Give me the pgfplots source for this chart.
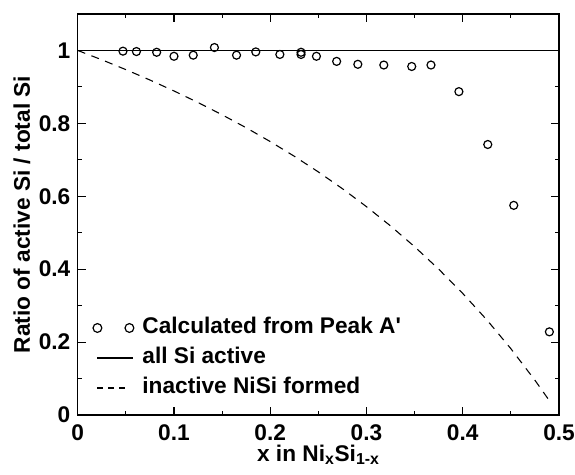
\documentclass[border=0pt]{standalone}
\usepackage{pgfplots}
\pgfplotsset{compat=1.18}
\usepackage{fontspec}
\setmainfont{Liberation Sans}

\begin{document}
\begin{tikzpicture}
\useasboundingbox (-58.3pt,-45pt) rectangle (373pt,311.25pt);
\begin{axis}[
    scale only axis,
    width=361pt,
    height=300.75pt,
    xmin=0, xmax=0.5,
    ymin=0, ymax=1.1,
    xtick={0,0.1,...,0.5},
    ytick={0,0.2,...,1},
    minor xtick={0.05,0.15,...,0.45},
    minor ytick={0.1,0.3,...,0.9,1.1},
    tick align=inside,
    major tick length=6pt,
    minor tick length=3pt,
    axis line style={line width=1pt},
    every tick/.style={black, line width=0.8pt},
    /pgf/number format/assume math mode=true,
    tick label style={font=\fontsize{17}{20}\selectfont\bfseries},
    xticklabel style={yshift=-4pt},
    yticklabel style={xshift=-2pt},
    xlabel={x in Ni\textsubscript{x}Si\textsubscript{1-x}},
    ylabel={Ratio of active Si / total Si},
    label style={font=\fontsize{17}{20}\selectfont\bfseries},
    xlabel style={at={(axis description cs:0.5,-0.1)}, anchor=center},
    ylabel style={at={(axis description cs:-0.116,0.5)}, anchor=center},
    legend style={draw=none, fill=none, at={(axis description cs:0.03,0.035)},
        anchor=south west, font=\fontsize{17}{20}\selectfont\bfseries,
        row sep=3.5pt, inner sep=0pt,
        nodes={text height=12pt, text depth=3pt},
        /tikz/every odd column/.append style={column sep=4pt}},
    legend cell align=left,
]

% calculated from peak A'
\addplot[only marks, mark=o, mark size=3pt, mark options={line width=0.9pt},
    legend image code/.code={
        \draw[line width=0.9pt] (0pt,0pt) circle (3.3pt);
        \draw[line width=0.9pt] (24pt,0pt) circle (3.3pt);}]
coordinates {
(0.047,0.998) (0.061,0.997) (0.082,0.995) (0.100,0.984) (0.120,0.987)
(0.142,1.008) (0.165,0.987) (0.185,0.996) (0.210,0.989) (0.232,0.995)
(0.232,0.989) (0.248,0.984) (0.269,0.970) (0.291,0.962) (0.318,0.960)
(0.347,0.956) (0.367,0.960) (0.396,0.887) (0.426,0.742) (0.453,0.575)
(0.490,0.228)
};
\addlegendentry{Calculated from Peak A\textquotesingle}

% all Si active
\addplot[black, line width=0.8pt,
    legend image code/.code={\draw[black, line width=0.8pt] (0pt,0pt) -- (27pt,0pt);}]
coordinates {(0,1) (0.5,1)};
\addlegendentry{all Si active}

% inactive NiSi formed
\addplot[black, line width=0.8pt, dash pattern=on 6pt off 5pt,
    legend image code/.code={\draw[black, line width=0.8pt, dash pattern=on 4.5pt off 3.75pt] (0pt,0pt) -- (21pt,0pt);}]
coordinates {
(0,1) (0.025,0.9744) (0.05,0.9474) (0.075,0.9189) (0.1,0.8889)
(0.125,0.8571) (0.15,0.8235) (0.175,0.7879) (0.2,0.75) (0.225,0.7097)
(0.25,0.6667) (0.275,0.6207) (0.3,0.5714) (0.325,0.5185) (0.35,0.4615)
(0.375,0.4) (0.4,0.3333) (0.425,0.2609) (0.45,0.1818) (0.475,0.0952)
(0.49,0.0392)
};
\addlegendentry{inactive NiSi formed}

\end{axis}
\end{tikzpicture}
\end{document}
